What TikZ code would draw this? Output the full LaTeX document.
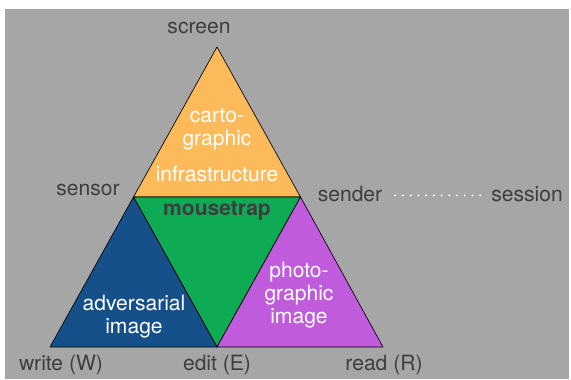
\documentclass[tikz,border=0pt]{standalone}
\usepackage{fontspec}
\setmainfont{TeX Gyre Heros}

\definecolor{bggray}{RGB}{166,166,166}
\definecolor{labelgray}{RGB}{62,62,62}
\definecolor{cartoorange}{RGB}{252,186,90}
\definecolor{trapgreen}{RGB}{14,170,84}
\definecolor{advblue}{RGB}{22,80,138}
\definecolor{photopurple}{RGB}{192,92,220}

\tikzset{every picture/.style={line width=0.75pt}}
\tikzset{
  cornerlabel/.style={font=\fontsize{15.8}{18}\selectfont, text=labelgray},
  regionlabel/.style={font=\fontsize{15.8}{17.25}\selectfont, text=white, align=center},
  facet/.style={draw=black, line width=0.5pt, line join=round}
}

\begin{document}
\begin{tikzpicture}[x=0.75pt,y=0.75pt,yscale=-1,xscale=1]
		\useasboundingbox (0,0) rectangle (571,379);
		
		%Background
		\fill [bggray] (5,9) rectangle (569,379);
		
		%Triangle corners
		\coordinate (apex) at (217,47);
		\coordinate (wcorner) at (50,347);
		\coordinate (rcorner) at (383,347);
		\coordinate (ecorner) at (217,347);
		\coordinate (lmid) at (133.5,197);
		\coordinate (rmid) at (300.5,197);
		
		%Top triangle
		\draw [facet, fill=cartoorange] (apex) -- (rmid) -- (lmid) -- cycle;
		%Middle triangle
		\draw [facet, fill=trapgreen] (lmid) -- (rmid) -- (ecorner) -- cycle;
		%Left triangle
		\draw [facet, fill=advblue] (lmid) -- (ecorner) -- (wcorner) -- cycle;
		%Right triangle
		\draw [facet, fill=photopurple] (rmid) -- (rcorner) -- (ecorner) -- cycle;
		
		% Text Node
		\node [cornerlabel] (screen) at (199,28) {screen};
		% Text Node
		\node [cornerlabel] (sensor) at (88,190) {sensor};
		% Text Node
		\node [cornerlabel] (sender) at (350,194) {sender};
		% Text Node
		\node [cornerlabel] (session) at (527,194) {session};
		% Text Node
		\node [cornerlabel] (write) at (61,365) {write (W)};
		% Text Node
		\node [cornerlabel] (edit) at (217,365) {edit (E)};
		% Text Node
		\node [cornerlabel] (read) at (384,365) {read (R)};
		
		% Text Node
		\node [regionlabel] (carto) at (217,145) {carto-\\graphic\\[10pt]infrastructure};
		% Text Node
		\node [cornerlabel, font=\bfseries\fontsize{15.8}{18}\selectfont] (trap) at (217,211) {mousetrap};
		% Text Node
		\node [regionlabel] (adv) at (134,317) {adversarial\\image};
		% Text Node
		\node [regionlabel] (photo) at (299,295) {photo-\\graphic\\image};
		
		%Dotted link
		\draw [white, line width=1.6pt, line cap=round, dash pattern=on 0pt off 5.8pt] ([xshift=6pt,yshift=1pt]sender.east) -- ([xshift=-4pt,yshift=1pt]session.west);
		
\end{tikzpicture}
\end{document}
